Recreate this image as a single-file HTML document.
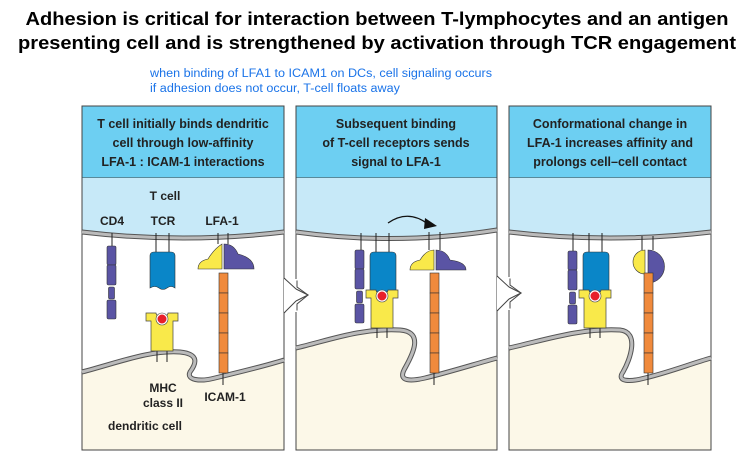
<!DOCTYPE html>
<html><head><meta charset="utf-8"><style>
html,body{margin:0;padding:0;background:#fff;width:752px;height:458px;overflow:hidden}
svg{display:block}
.t{font-family:"Liberation Sans",sans-serif;font-weight:bold;font-size:18.5px;fill:#000}
.b{font-family:"Liberation Sans",sans-serif;font-size:11.5px;fill:#1a73e8}
.h{font-family:"Liberation Sans",sans-serif;font-weight:bold;font-size:12.5px;fill:#222}
.l{font-family:"Liberation Sans",sans-serif;font-weight:bold;font-size:12px;fill:#222}
</style></head><body>
<svg width="752" height="458" viewBox="0 0 752 458" xmlns="http://www.w3.org/2000/svg">
<text class="t" x="377" y="25" text-anchor="middle" textLength="703" lengthAdjust="spacingAndGlyphs">Adhesion is critical for interaction between T-lymphocytes and an antigen</text>
<text class="t" x="377" y="49" text-anchor="middle" textLength="718" lengthAdjust="spacingAndGlyphs">presenting cell and is strengthened by activation through TCR engagement</text>
<text class="b" x="150" y="77" textLength="342" lengthAdjust="spacingAndGlyphs">when binding of LFA1 to ICAM1 on DCs, cell signaling occurs</text>
<text class="b" x="150" y="92" textLength="250" lengthAdjust="spacingAndGlyphs">if adhesion does not occur, T-cell floats away</text>

<defs>
<g id="cd4">
<rect x="0" y="0" width="9" height="19" rx="1.5" fill="#5a54a4" stroke="#333" stroke-width=".6"/>
<rect x="0" y="19" width="9" height="20" rx="1.5" fill="#5a54a4" stroke="#333" stroke-width=".6"/>
<rect x="1.5" y="41" width="6" height="12" rx="1.5" fill="#5a54a4" stroke="#333" stroke-width=".6"/>
<rect x="0" y="54" width="9" height="19" rx="1.5" fill="#5a54a4" stroke="#333" stroke-width=".6"/>
</g>
<g id="icam">
<rect x="0" y="0" width="9" height="20" fill="#f08a3c" stroke="#333" stroke-width=".6"/>
<rect x="0" y="20" width="9" height="20" fill="#f08a3c" stroke="#333" stroke-width=".6"/>
<rect x="0" y="40" width="9" height="20" fill="#f08a3c" stroke="#333" stroke-width=".6"/>
<rect x="0" y="60" width="9" height="20" fill="#f08a3c" stroke="#333" stroke-width=".6"/>
<rect x="0" y="80" width="9" height="20" fill="#f08a3c" stroke="#333" stroke-width=".6"/>
</g>
<g id="mhc">
<path d="M0,0 h10 a6,4 0 0 0 12,0 h10 v8 h-5 v30 h-22 v-30 h-5z" fill="#f9e94a" stroke="#444" stroke-width=".7"/>
<circle cx="16" cy="6" r="6" fill="#fff" stroke="#444" stroke-width=".6"/>
<circle cx="16" cy="6" r="4.5" fill="#e8202a"/>
</g>
</defs>

<g stroke="#444" stroke-width="1">
<rect x="82" y="106" width="202" height="72" fill="#6dcff2"/>
<rect x="82" y="178" width="202" height="272" fill="#fff"/>
<path d="M82,178 H284 V232 Q183,244 82,232Z" fill="#c7e9f8" stroke="none"/>
<path d="M82,372 C120,362 150,350 180,352 C200,354 196,364 190,372 C186,380 200,382 215,378 C240,372 265,366 284,360 V450 H82Z" fill="#fcf8e8" stroke="none"/>
<rect x="296" y="106" width="201" height="72" fill="#6dcff2"/>
<rect x="296" y="178" width="201" height="272" fill="#fff"/>
<path d="M296,178 H497 V230 Q396,246 296,232Z" fill="#c7e9f8" stroke="none"/>
<path d="M296,348 C330,340 360,328 400,330 C428,332 408,362 404,370 C398,382 412,381 425,378 C450,372 475,364 497,358 V450 H296Z" fill="#fcf8e8" stroke="none"/>
<rect x="509" y="106" width="202" height="72" fill="#6dcff2"/>
<rect x="509" y="178" width="202" height="272" fill="#fff"/>
<path d="M509,178 H711 V232 Q610,244 509,232Z" fill="#c7e9f8" stroke="none"/>
<path d="M509,348 C545,340 580,328 620,330 C640,332 630,360 623,372 C616,382 630,382 645,378 C670,372 690,364 711,358 V450 H509Z" fill="#fcf8e8" stroke="none"/>
<rect x="82" y="106" width="202" height="344" fill="none"/>
<rect x="296" y="106" width="201" height="344" fill="none"/>
<rect x="509" y="106" width="202" height="344" fill="none"/>
</g>
<g fill="none" stroke="#555" stroke-width="5"><path d="M82,232 Q183,244 284,232"/><path d="M296,232 Q396,246 497,230"/><path d="M509,232 Q610,244 711,232"/>
<path d="M82,372 C120,362 150,350 180,352 C200,354 196,364 190,372 C186,380 200,382 215,378 C240,372 265,366 284,360"/>
<path d="M296,348 C330,340 360,328 400,330 C428,332 408,362 404,370 C398,382 412,381 425,378 C450,372 475,364 497,358"/>
<path d="M509,348 C545,340 580,328 620,330 C640,332 630,360 623,372 C616,382 630,382 645,378 C670,372 690,364 711,358"/></g>
<g fill="none" stroke="#bbb" stroke-width="3"><path d="M82,232 Q183,244 284,232"/><path d="M296,232 Q396,246 497,230"/><path d="M509,232 Q610,244 711,232"/>
<path d="M82,372 C120,362 150,350 180,352 C200,354 196,364 190,372 C186,380 200,382 215,378 C240,372 265,366 284,360"/>
<path d="M296,348 C330,340 360,328 400,330 C428,332 408,362 404,370 C398,382 412,381 425,378 C450,372 475,364 497,358"/>
<path d="M509,348 C545,340 580,328 620,330 C640,332 630,360 623,372 C616,382 630,382 645,378 C670,372 690,364 711,358"/></g>

<!-- between arrows -->
<g fill="#fff" stroke="#444" stroke-width="1">
<path d="M284,278 L290,284 L290,281 L297,281 L297,287 L308,295 L297,304 L297,310 L290,310 L290,307 L284,313"/>
<path d="M497,276 L503,282 L503,279 L510,279 L510,285 L521,293 L510,302 L510,308 L503,308 L503,305 L497,311"/>
</g>
<rect x="284.5" y="279" width="12" height="33" fill="#fff"/>
<rect x="497.5" y="277" width="12" height="33" fill="#fff"/>
<g fill="none" stroke="#444" stroke-width="1">
<path d="M284,278 L296,289 M296,289 L308,295 L296,301 M296,301 L284,313"/>
<path d="M497,276 L509,287 M509,287 L521,293 L509,299 M509,299 L497,311"/>
</g>

<text class="h" text-anchor="middle"><tspan x="183" y="128">T cell initially binds dendritic</tspan><tspan x="183" y="147">cell through low-affinity</tspan><tspan x="183" y="166">LFA-1 : ICAM-1 interactions</tspan></text>
<text class="h" text-anchor="middle"><tspan x="396" y="128">Subsequent binding</tspan><tspan x="396" y="147">of T-cell receptors sends</tspan><tspan x="396" y="166">signal to LFA-1</tspan></text>
<text class="h" text-anchor="middle"><tspan x="610" y="128">Conformational change in</tspan><tspan x="610" y="147">LFA-1 increases affinity and</tspan><tspan x="610" y="166">prolongs cell–cell contact</tspan></text>

<text class="l" x="165" y="200" text-anchor="middle">T cell</text>
<text class="l" x="112" y="225" text-anchor="middle">CD4</text>
<text class="l" x="163" y="225" text-anchor="middle">TCR</text>
<text class="l" x="222" y="225" text-anchor="middle">LFA-1</text>
<g stroke="#222" stroke-width="1"><line x1="112" y1="233" x2="112" y2="246"/><line x1="156" y1="233" x2="156" y2="253"/><line x1="169" y1="233" x2="169" y2="253"/><line x1="218" y1="233" x2="218" y2="244"/><line x1="228" y1="233" x2="228" y2="244"/><line x1="223" y1="370" x2="223" y2="385"/><line x1="157" y1="348" x2="157" y2="362"/><line x1="167" y1="348" x2="167" y2="362"/></g>
<use href="#cd4" x="107" y="246"/>
<path d="M150,256 q0,-4 4,-4 h17 q4,0 4,4 v32 q-4,-3 -8,0 q-4,3 -8,0 q-4,-3 -9,0z" fill="#0a86c8" stroke="#333" stroke-width=".6"/>
<path d="M222,244 v25 h-24 q0,-8 10,-10 q6,-10 14,-15z" fill="#f9e94a" stroke="#333" stroke-width=".6"/>
<path d="M224,244 q10,0 14,10 q16,4 16,15 h-30z" fill="#5a54a4" stroke="#333" stroke-width=".6"/>
<use href="#icam" x="219" y="273"/>
<use href="#mhc" x="146" y="313"/>
<text class="l" text-anchor="middle"><tspan x="163" y="392">MHC</tspan><tspan x="163" y="407">class II</tspan></text>
<text class="l" x="225" y="401" text-anchor="middle">ICAM-1</text>
<text class="l" x="145" y="430" text-anchor="middle">dendritic cell</text>

<path d="M388,223 q20,-14 40,1" fill="none" stroke="#111" stroke-width="1.3"/>
<path d="M425,218 l12,8 l-13,3z" fill="#111"/>
<g stroke="#222" stroke-width="1"><line x1="361" y1="233" x2="361" y2="250"/><line x1="376" y1="233" x2="376" y2="252"/><line x1="389" y1="233" x2="389" y2="252"/><line x1="429" y1="232" x2="429" y2="250"/><line x1="440" y1="232" x2="440" y2="250"/><line x1="434" y1="372" x2="434" y2="385"/><line x1="377" y1="325" x2="377" y2="338"/><line x1="387" y1="325" x2="387" y2="338"/></g>
<use href="#cd4" x="355" y="250"/>
<path d="M370,256 q0,-4 4,-4 h18 q4,0 4,4 v36 h-26z" fill="#0a86c8" stroke="#333" stroke-width=".6"/>
<use href="#mhc" x="366" y="290"/>
<path d="M434,250 v20 h-24 q0,-8 10,-10 q6,-10 14,-10z" fill="#f9e94a" stroke="#333" stroke-width=".6"/>
<path d="M436,250 q10,0 14,10 q16,2 16,10 h-30z" fill="#5a54a4" stroke="#333" stroke-width=".6"/>
<use href="#icam" x="430" y="273"/>

<g stroke="#222" stroke-width="1"><line x1="573" y1="233" x2="573" y2="251"/><line x1="589" y1="233" x2="589" y2="252"/><line x1="602" y1="233" x2="602" y2="252"/><line x1="642" y1="236" x2="642" y2="250"/><line x1="653" y1="236" x2="653" y2="250"/><line x1="648" y1="372" x2="648" y2="385"/><line x1="590" y1="325" x2="590" y2="338"/><line x1="600" y1="325" x2="600" y2="338"/></g>
<use href="#cd4" x="568" y="251"/>
<path d="M583,256 q0,-4 4,-4 h18 q4,0 4,4 v36 h-26z" fill="#0a86c8" stroke="#333" stroke-width=".6"/>
<use href="#mhc" x="579" y="290"/>
<path d="M645,250 a12,12 0 0 0 0,24z" fill="#f9e94a" stroke="#333" stroke-width=".6"/>
<path d="M648,250 a16,16 0 0 1 0,33 v-10 h0z" fill="#5a54a4" stroke="#333" stroke-width=".6"/>
<use href="#icam" x="644" y="273"/>
</svg>
</body></html>
